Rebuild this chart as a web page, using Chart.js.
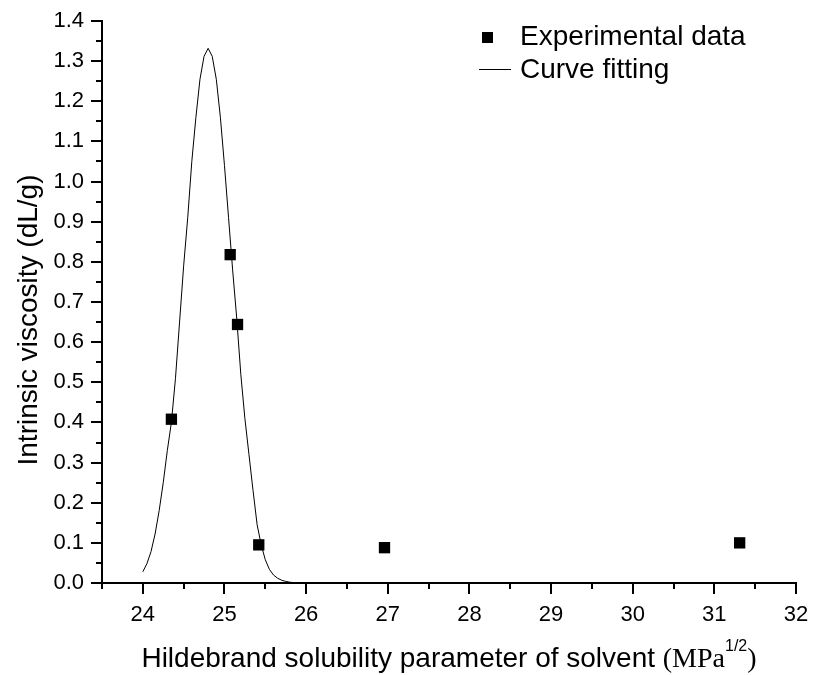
<!DOCTYPE html>
<html>
<head>
<meta charset="utf-8">
<script src="https://cdn.jsdelivr.net/npm/chart.js@4.4.1/dist/chart.umd.min.js"></script>
<style>
  html, body { margin: 0; padding: 0; background: #fff; }
</style>
</head>
<body>
<canvas id="viscChart" width="813" height="675"></canvas>
<script>
// experimental points
const expX = [24.35, 25.07, 25.16, 25.42, 26.96, 31.31];
const expY = [0.408, 0.818, 0.644, 0.095, 0.088, 0.100];

// fitted curve
const fitX = [24.00, 24.05, 24.10, 24.15, 24.20, 24.25, 24.30, 24.35, 24.40, 24.45,
              24.50, 24.55, 24.60, 24.65, 24.70, 24.75, 24.80, 24.85, 24.90, 24.95,
              25.00, 25.05, 25.10, 25.15, 25.20, 25.25, 25.30, 25.35, 25.40, 25.45,
              25.50, 25.55, 25.60, 25.65, 25.70, 25.75, 25.80, 25.85, 25.90];
const fitY = [0.028, 0.048, 0.078, 0.122, 0.18, 0.25, 0.33, 0.40, 0.51, 0.65,
              0.79, 0.91, 1.05, 1.16, 1.255, 1.312, 1.332, 1.312, 1.255, 1.16,
              1.04, 0.91, 0.78, 0.66, 0.52, 0.41, 0.32, 0.23, 0.145, 0.095,
              0.058, 0.034, 0.02, 0.012, 0.007, 0.004, 0.002, 0.001, 0.0];

// minor tick values
const xMinor = [23.5, 24.5, 25.5, 26.5, 27.5, 28.5, 29.5, 30.5, 31.5];
const yMinor = [0.05, 0.15, 0.25, 0.35, 0.45, 0.55, 0.65, 0.75, 0.85, 0.95, 1.05, 1.15, 1.25, 1.35];

const seriesNames = ['Experimental data', 'Curve fitting'];
const xTitle = 'Hildebrand solubility parameter of solvent ';
const xUnit = '(MPa';
const xUnitExp = '1/2';
const yTitle = 'Intrinsic viscosity (dL/g)';

const SANS = '"Liberation Sans", Arial, sans-serif';
const SERIF = '"Liberation Serif", "Times New Roman", serif';

// legend glyphs (square marker / short line)
function makeIcon(kind) {
  const c = document.createElement('canvas');
  c.width = 32;
  c.height = kind === 'rect' ? 11 : 2;
  const g = c.getContext('2d');
  g.fillStyle = '#000';
  if (kind === 'rect') g.fillRect(3, 0, 11, 11);
  else g.fillRect(0, 0, 32, 1);
  return c;
}
const legendIcons = [makeIcon('rect'), makeIcon('line')];

const minorTicks = {
  id: 'minorTicks',
  afterDraw(chart) {
    const {ctx, scales: {x, y}} = chart;
    ctx.save();
    ctx.strokeStyle = '#000';
    ctx.lineWidth = 2;
    ctx.beginPath();
    xMinor.forEach(v => {
      const px = Math.round(x.getPixelForValue(v));
      ctx.moveTo(px, x.top);
      ctx.lineTo(px, x.top + 6);
    });
    yMinor.forEach(v => {
      const py = Math.round(y.getPixelForValue(v));
      ctx.moveTo(y.right, py);
      ctx.lineTo(y.right - 6, py);
    });
    ctx.stroke();
    ctx.restore();
  }
};

const axisTitles = {
  id: 'axisTitles',
  afterDraw(chart) {
    const {ctx, chartArea} = chart;
    ctx.save();
    ctx.fillStyle = '#000';
    ctx.textBaseline = 'alphabetic';
    ctx.textAlign = 'left';

    // x title with superscript unit
    const parts = [
      [xTitle, '28px ' + SANS, 0],
      [xUnit, '28px ' + SERIF, 0],
      [xUnitExp, '16px ' + SANS, -16],
      [')', '28px ' + SERIF, 0]
    ];
    let total = 0;
    parts.forEach(p => { ctx.font = p[1]; total += ctx.measureText(p[0]).width; });
    let cx = (chartArea.left + chartArea.right) / 2 - total / 2;
    parts.forEach(p => {
      ctx.font = p[1];
      ctx.fillText(p[0], cx, 667 + p[2]);
      cx += ctx.measureText(p[0]).width;
    });

    // y title
    ctx.font = '28px ' + SANS;
    ctx.textAlign = 'center';
    ctx.translate(37, 320);
    ctx.rotate(-Math.PI / 2);
    ctx.fillText(yTitle, 0, 0);
    ctx.restore();
  }
};

// move the legend to the upper right of the plot
const legendSpot = {
  id: 'legendSpot',
  afterLayout(chart) {
    const lg = chart.legend;
    lg.left = 479;
    lg.top = 18;
  }
};

new Chart(document.getElementById('viscChart'), {
  type: 'scatter',
  data: {
    datasets: [
      {
        label: seriesNames[0],
        data: expX.map((v, i) => ({x: v, y: expY[i]})),
        pointStyle: 'rect',
        pointRadius: 8,
        pointHoverRadius: 8,
        backgroundColor: '#000',
        borderColor: '#000',
        borderWidth: 0,
        showLine: false,
        order: 0
      },
      {
        label: seriesNames[1],
        data: fitX.map((v, i) => ({x: v, y: fitY[i]})),
        showLine: true,
        pointRadius: 0,
        borderColor: '#000',
        backgroundColor: '#000',
        borderWidth: 1,
        tension: 0,
        order: 1
      }
    ]
  },
  options: {
    responsive: false,
    animation: false,
    devicePixelRatio: 1,
    layout: { padding: { left: 0, right: 17, top: 21, bottom: 0 } },
    plugins: {
      tooltip: { enabled: false },
      legend: {
        position: 'chartArea',
        align: 'start',
        labels: {
          usePointStyle: true,
          pointStyleWidth: 22,
          boxHeight: 11,
          padding: 5,
          color: '#000',
          font: { family: SANS, size: 28 },
          generateLabels: chart =>
            Chart.defaults.plugins.legend.labels.generateLabels(chart)
              .map((l, i) => ({...l, pointStyle: legendIcons[i]}))
        }
      }
    },
    scales: {
      x: {
        type: 'linear',
        min: 23.5,
        max: 32,
        afterFit: s => { s.height = 92; s.paddingLeft = 0; s.paddingRight = 0; },
        ticks: {
          stepSize: 1,
          includeBounds: false,
          color: '#000',
          padding: 8,
          font: { family: SANS, size: 22 }
        },
        grid: { drawOnChartArea: false, tickLength: 11, color: '#000', lineWidth: 2 },
        border: { color: '#000', width: 2 }
      },
      y: {
        min: 0,
        max: 1.4,
        afterFit: s => { s.width = 102; s.paddingTop = 0; s.paddingBottom = 0; },
        ticks: {
          stepSize: 0.1,
          color: '#000',
          padding: 7,
          font: { family: SANS, size: 22 },
          callback: v => v.toFixed(1)
        },
        grid: { drawOnChartArea: false, tickLength: 11, color: '#000', lineWidth: 2 },
        border: { color: '#000', width: 2 }
      }
    }
  },
  plugins: [minorTicks, axisTitles, legendSpot]
});
</script>
</body>
</html>
